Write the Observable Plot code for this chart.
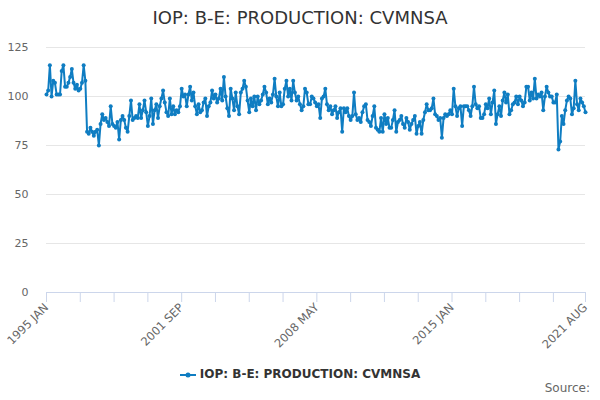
<!DOCTYPE html>
<html><head><meta charset="utf-8">
<script src="https://cdn.jsdelivr.net/npm/d3@7"></script>
<script src="https://cdn.jsdelivr.net/npm/@observablehq/plot@0.6"></script>
<style>
body{margin:0;background:#fff;font-family:"DejaVu Sans",sans-serif;}
#wrap{position:relative;width:600px;height:400px;overflow:hidden}
#title{position:absolute;top:7px;left:0;width:600px;text-align:center;font-size:18px;color:#333}
#chart{position:absolute;top:0;left:0}
#legend{position:absolute;top:367px;left:0;width:600px;text-align:center;font-size:12px;font-weight:bold;color:#333}
#legend svg{vertical-align:middle;margin-right:4px}
#source{position:absolute;right:10px;top:381px;font-size:12px;color:#666}
</style></head>
<body><div id="wrap"><div id="chart"></div>
<div id="title">IOP: B-E: PRODUCTION: CVMNSA</div>
<div id="legend"><svg width="16" height="10"><line x1="0" y1="5" x2="16" y2="5" stroke="#0f7dc2" stroke-width="2"/><circle cx="8" cy="5" r="2.5" fill="#0f7dc2"/></svg>IOP: B-E: PRODUCTION: CVMNSA</div>
<div id="source">Source:</div></div>
<script>
const seriesName = "IOP: B-E: PRODUCTION: CVMNSA";
const values = [
 101,103,116,100,108,107,101,101,101,113,116,105,
 105,107,110,114,107,104,106,103,104,107,116,108,
 82,81,84,82,80,82,83,75,86,91,88,89,
 87,85,95,86,85,84,87,78,88,90,88,84,
 82,90,98,88,89,90,89,96,89,93,98,92,
 85,90,99,86,93,96,89,95,99,103,97,92,
 90,99,91,95,91,93,92,95,104,100,101,95,
 101,105,98,102,95,91,96,92,93,97,99,90,
 95,97,103,99,101,97,99,104,98,110,100,94,
 90,104,99,93,102,95,91,102,104,108,105,98,
 92,99,95,100,93,100,96,98,101,105,102,96,
 99,97,101,109,100,95,102,95,96,104,108,100,
 104,98,108,102,98,100,96,93,95,104,102,96,
 96,100,99,97,95,96,89,99,100,104,96,93,
 95,91,93,95,89,92,94,82,94,92,94,90,
 88,90,102,91,88,89,87,92,95,96,88,87,
 85,90,95,84,83,82,89,82,91,86,89,84,
 84,88,93,82,87,88,90,86,84,89,87,83,
 86,88,90,81,85,87,81,88,92,96,93,93,
 94,99,91,90,88,89,79,89,91,90,91,93,
 91,104,95,90,94,95,85,95,95,95,93,90,
 95,105,96,94,95,89,89,91,96,94,99,91,
 97,103,86,91,95,90,98,102,97,101,91,93,
 96,97,100,96,100,98,95,97,105,105,98,102,
 99,109,99,101,100,102,93,100,105,102,100,100,
 97,97,101,73,77,90,86,93,98,100,99,91,
 94,108,96,93,99,97,95,92
];
const tickIndex = [0,20,40,60,80,100,120,140,160,180,200,220,240,260,280,300,319];
const labelIndex = [0,80,160,240,319];
const tickLabels = ["1995 JAN","2001 SEP","2008 MAY","2015 JAN","2021 AUG"];
const yTicks = [0,25,50,75,100,125];
const color = "#0f7dc2";
const data = values.map((v,i)=>({i, v}));
const labelMap = new Map(labelIndex.map((d,k)=>[d,tickLabels[k]]));
const chart = Plot.plot({
  width:600, height:400,
  marginLeft:46, marginRight:15, marginTop:47, marginBottom:108,
  x:{domain:[0,319]},
  y:{domain:[0,125]},
  style:{fontFamily:"DejaVu Sans, sans-serif", fontSize:"11px", background:"transparent"},
  marks:[
    Plot.gridY(yTicks,{stroke:"#e6e6e6", strokeOpacity:1}),
    Plot.axisY(yTicks,{tickSize:0, tickPadding:18, fill:"#666", fontSize:11, label:null}),
    Plot.ruleY([0],{stroke:"#ccd6eb"}),
    Plot.axisX(tickIndex,{tickSize:10, stroke:"#ccd6eb", strokeOpacity:1, fill:"#666", fontSize:11.5, tickRotate:-45, tickPadding:3, label:null, tickFormat:d=>labelMap.get(d)||""}),
    Plot.line(data,{x:"i", y:"v", stroke:color, strokeWidth:2}),
    Plot.dot(data,{x:"i", y:"v", fill:color, r:2})
  ]
});
document.getElementById("chart").appendChild(chart);
</script>
</body></html>
